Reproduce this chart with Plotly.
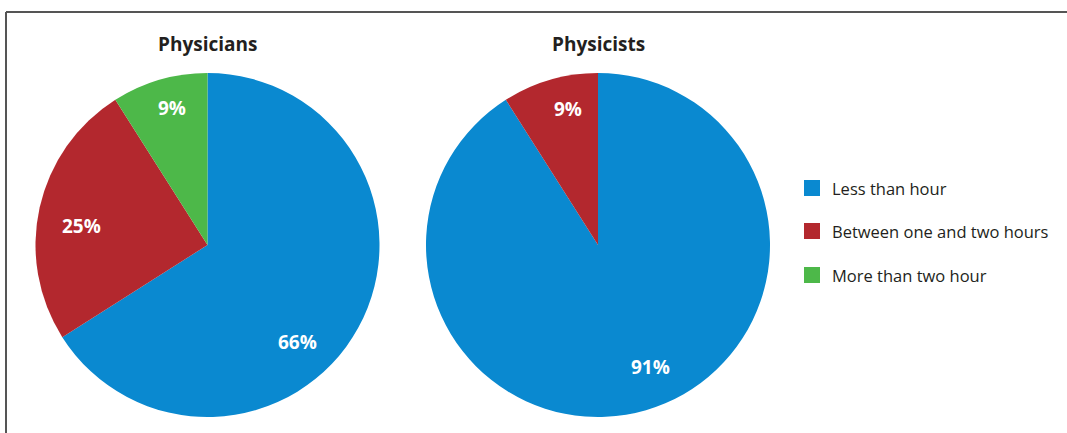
import math
import plotly.graph_objects as go

W, H = 1067, 433

labels = ["Less than hour", "Between one and two hours", "More than two hour"]
physicians = [66, 25, 9]
physicists = [91, 9, 0]
titles = ["Physicians", "Physicists"]
colors = ["#0A89D0", "#B3282E", "#4DB849"]

# label placement (angle offset from slice mid-angle in degrees, radius fraction), per pie/slice
label_place = [
    [(18.5, 0.77), (-4.0, 0.74), (1.7, 0.82)],
    [(-7.0, 0.77), (3.8, 0.81), (0, 0)],
]

def px_x(v):
    return v / W

def px_y(v):
    return 1 - v / H

fig = go.Figure()

centers = [(207.5, 245), (598, 245)]
R = 172
annotations = []
for vals, (cx, cy), places in zip([physicians, physicists], centers, label_place):
    fig.add_trace(go.Pie(
        labels=labels, values=vals, sort=False, direction="clockwise", rotation=0,
        marker=dict(colors=colors, line=dict(width=0)),
        textinfo="none",
        domain=dict(x=[px_x(cx - R), px_x(cx + R)], y=[px_y(cy + R), px_y(cy - R)]),
        showlegend=False, hoverinfo="label+percent",
    ))
    total = sum(vals)
    start = 0.0
    for v, (doff, rf) in zip(vals, places):
        span = 360.0 * v / total
        if v > 0:
            ang = math.radians(start + span / 2 + doff)
            x = cx + rf * R * math.sin(ang)
            y = cy - rf * R * math.cos(ang)
            annotations.append(dict(text="<b>%d%%</b>" % v, x=px_x(x), y=px_y(y),
                                    xref="paper", yref="paper", showarrow=False,
                                    xanchor="center", yanchor="middle",
                                    font=dict(family="Open Sans", size=19, color="white")))
        start += span

for t, (cx, cy) in zip(titles, centers):
    annotations.append(dict(text="<b>%s</b>" % t, x=px_x(cx), y=px_y(44), xref="paper", yref="paper",
                            showarrow=False, xanchor="center", yanchor="middle",
                            font=dict(family="Open Sans", size=19, color="#231F20")))

shapes = []
leg_y = [188, 231, 275]
for lab, col, ly in zip(labels, colors, leg_y):
    shapes.append(dict(type="rect", xref="paper", yref="paper",
                       x0=px_x(804), x1=px_x(820), y0=px_y(ly + 8), y1=px_y(ly - 8),
                       fillcolor=col, line=dict(width=0)))
    annotations.append(dict(text=lab, x=px_x(830), y=px_y(ly), xref="paper", yref="paper",
                            showarrow=False, xanchor="left", yanchor="middle",
                            font=dict(family="Open Sans", size=16.5, color="#231F20")))

# frame lines (top and left)
shapes.append(dict(type="line", xref="paper", yref="paper", x0=px_x(6), x1=1, y0=px_y(12), y1=px_y(12),
                   line=dict(color="#555555", width=2)))
shapes.append(dict(type="line", xref="paper", yref="paper", x0=px_x(6), x1=px_x(6), y0=px_y(12), y1=0,
                   line=dict(color="#555555", width=2)))

fig.update_layout(width=W, height=H, margin=dict(l=0, r=0, t=0, b=0),
                  paper_bgcolor="white", plot_bgcolor="white",
                  annotations=annotations, shapes=shapes, showlegend=False)

fig.write_html("out.html")
